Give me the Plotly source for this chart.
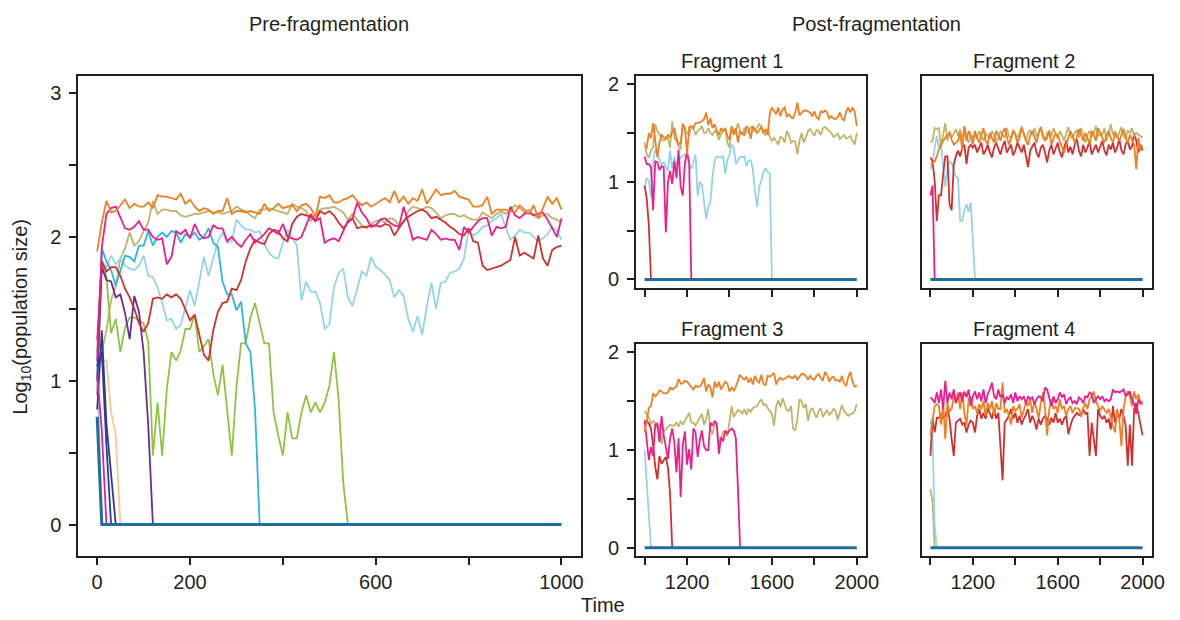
import plotly.graph_objects as go

# ---------------- data ----------------
T_PRE = list(range(0, 1001, 10))
T_POST = list(range(1000, 2001, 10))

# Pre-fragmentation (time 0..1000, step 10)
pre_orange = [1.90, 2.10, 2.25, 2.17, 2.18, 2.22, 2.26, 2.20, 2.23, 2.21,
              2.21, 2.24, 2.20, 2.29, 2.28, 2.28, 2.27, 2.26, 2.30, 2.23,
              2.26, 2.21, 2.18, 2.20, 2.19, 2.16, 2.18, 2.18, 2.27, 2.16,
              2.18, 2.18, 2.17, 2.18, 2.17, 2.16, 2.23, 2.18, 2.20, 2.23,
              2.20, 2.21, 2.22, 2.18, 2.22, 2.23, 2.20, 2.14, 2.28, 2.27,
              2.29, 2.24, 2.24, 2.26, 2.27, 2.29, 2.25, 2.22, 2.24, 2.21,
              2.23, 2.25, 2.27, 2.24, 2.32, 2.24, 2.28, 2.23, 2.27, 2.25,
              2.33, 2.23, 2.28, 2.33, 2.29, 2.30, 2.30, 2.32, 2.28, 2.27,
              2.26, 2.21, 2.21, 2.22, 2.28, 2.16, 2.19, 2.19, 2.19, 2.18,
              2.17, 2.22, 2.19, 2.16, 2.22, 2.13, 2.20, 2.28, 2.23, 2.27,
              2.19]
pre_olive = [1.15, 1.20, 1.35, 1.56, 1.66, 1.85, 1.92, 2.03, 1.94, 1.97,
             2.04, 2.10, 2.25, 2.16, 2.19, 2.19, 2.18, 2.18, 2.15, 2.14,
             2.15, 2.16, 2.16, 2.17, 2.18, 2.17, 2.17, 2.16, 2.17, 2.18,
             2.21, 2.19, 2.18, 2.15, 2.13, 2.19, 2.19, 2.20, 2.19, 2.18,
             2.17, 2.16, 2.23, 2.21, 2.20, 2.18, 2.11, 2.14, 2.19, 2.20,
             2.20, 2.21, 2.19, 2.17, 2.12, 2.16, 2.12, 2.08, 2.06, 2.09,
             2.11, 2.12, 2.10, 2.13, 2.12, 2.08, 2.10, 2.18, 2.21, 2.20,
             2.19, 2.21, 2.20, 2.17, 2.13, 2.15, 2.16, 2.16, 2.14, 2.15,
             2.13, 2.12, 2.12, 2.17, 2.15, 2.13, 2.16, 2.18, 2.16, 2.19,
             2.22, 2.20, 2.17, 2.19, 2.15, 2.13, 2.15, 2.16, 2.13, 2.12,
             2.10]
pre_red = [1.28, 1.83, 1.76, 1.79, 1.79, 1.73, 1.64, 1.58, 1.50, 1.40,
           1.34, 1.40, 1.57, 1.58, 1.57, 1.60, 1.58, 1.60, 1.57, 1.50,
           1.42, 1.46, 1.31, 1.18, 1.14, 1.35, 1.48, 1.54, 1.55, 1.64,
           1.63, 1.70, 1.83, 1.92, 1.98, 1.96, 1.95, 2.02, 2.05, 2.04,
           1.99, 1.97, 2.09, 2.14, 2.16, 2.15, 2.14, 2.11, 2.18, 2.16,
           2.18, 2.15, 2.10, 2.06, 2.10, 2.13, 2.06, 2.07, 2.07, 2.08,
           2.08, 2.07, 2.09, 2.08, 2.01, 2.06, 2.11, 2.14, 2.16, 2.18,
           2.19, 2.17, 2.13, 2.14, 2.12, 2.10, 2.07, 2.05, 2.02, 2.01,
           2.06, 1.97, 1.96, 1.80, 1.77, 1.78, 1.79, 1.80, 1.82, 1.84,
           2.00, 1.87, 1.89, 1.87, 1.85, 2.01, 1.85, 1.80, 1.91, 1.93,
           1.94]
pre_magenta = [1.14, 1.93, 2.16, 2.20, 2.21, 2.13, 2.06, 2.05, 2.07, 2.11,
               2.05, 2.05, 2.00, 1.98, 1.99, 1.81, 1.86, 2.04, 2.02, 2.05,
               1.99, 2.09, 2.02, 1.99, 2.00, 2.08, 2.06, 2.06, 1.97, 2.00,
               1.96, 1.93, 1.98, 2.02, 1.96, 1.99, 2.02, 2.06, 2.04, 2.02,
               2.09, 2.00, 1.99, 1.98, 2.00, 2.08, 2.16, 2.11, 2.13, 1.96,
               1.98, 1.99, 1.97, 2.04, 2.11, 2.13, 2.24, 2.17, 2.13, 2.07,
               2.08, 2.12, 2.13, 2.10, 2.08, 2.07, 2.21, 2.10, 1.98, 2.00,
               1.99, 1.98, 2.05, 2.02, 1.98, 1.99, 1.98, 1.98, 1.91, 2.07,
               2.03, 2.07, 2.11, 2.13, 2.13, 2.01, 2.07, 2.06, 2.07, 2.21,
               2.15, 2.13, 2.16, 2.17, 2.15, 2.16, 2.17, 2.12, 2.06, 2.00,
               2.13]
pre_lightblue = [1.10, 1.83, 1.79, 1.87, 1.81, 1.85, 1.80, 1.78, 1.77, 1.80,
                 1.87, 1.73, 1.72, 1.65, 1.54, 1.42, 1.43, 1.36, 1.39, 1.51,
                 1.63, 1.52, 1.70, 1.86, 1.73, 1.85, 1.97, 2.03, 1.96, 1.97,
                 2.12, 2.08, 2.05, 2.05, 2.03, 2.04, 1.95, 1.89, 1.86, 1.85,
                 1.96, 2.05, 2.00, 1.94, 1.56, 1.69, 1.62, 1.62, 1.54, 1.36,
                 1.39, 1.65, 1.75, 1.78, 1.58, 1.52, 1.64, 1.76, 1.73, 1.86,
                 1.79, 1.77, 1.74, 1.70, 1.58, 1.63, 1.59, 1.43, 1.34, 1.45,
                 1.32, 1.52, 1.68, 1.50, 1.68, 1.69, 1.75, 1.76, 1.78, 1.85,
                 2.05, 2.01, 2.03, 2.07, 2.08, 2.11, 2.13, 2.16, 2.06, 1.98,
                 2.01, 2.05, 2.03, 2.03, 2.00, 1.97, 1.99, 2.02, 2.07, 2.04,
                 1.98]
pre_skyblue = [0.90, 1.92, 1.83, 1.77, 1.66, 1.77, 1.87, 1.86, 1.83, 1.94,
               1.94, 2.04, 1.94, 2.00, 2.03, 2.00, 2.04, 2.03, 1.96, 2.02,
               2.00, 2.03, 1.98, 2.00, 2.06, 1.96, 1.93, 1.69, 1.60, 1.60,
               1.49, 1.55, 1.26, 1.20, 0.80, 0.00]
pre_green = [1.20, 1.83, 1.72, 1.33, 1.43, 1.20, 1.37, 1.44, 1.44, 1.42,
             1.40, 1.27, 0.48, 0.85, 0.48, 0.94, 1.20, 1.14, 1.21, 1.36,
             1.36, 1.46, 1.20, 1.24, 1.29, 1.05, 0.90, 1.11, 0.78, 0.48,
             0.96, 1.26, 1.26, 1.44, 1.54, 1.40, 1.26, 1.26, 0.78, 0.62,
             0.48, 0.78, 0.60, 0.60, 0.78, 0.90, 0.78, 0.85, 0.78, 0.85,
             0.96, 1.20, 0.87, 0.29, 0.00]
pre_purple = [1.00, 1.79, 1.70, 1.69, 1.58, 1.60, 1.47, 1.29, 1.59, 1.48,
              1.20, 0.69, 0.00]
pre_navy_a = [0.80, 1.35, 0.70, 0.35, 0.00]
pre_navy_b = [1.10, 1.20, 0.55, 0.00]
pre_magenta_b = [1.05, 0.65, 0.00]
pre_lightblue_b = [1.15, 0.00]
pre_peach = [1.10, 1.14, 1.14, 0.78, 0.62, 0.00]
pre_teal = [0.75, 0.00] + [0.00] * 99

# Fragment 1 (time 1000..2000, step 10)
f1_orange = [1.35, 1.35, 1.50, 1.45, 1.60, 1.45, 1.25, 1.40, 1.48, 1.46,
             1.44, 1.48, 1.46, 1.50, 1.55, 1.45, 1.38, 1.40, 1.59, 1.55,
             1.28, 1.56, 1.57, 1.55, 1.60, 1.60, 1.61, 1.62, 1.64, 1.71,
             1.58, 1.65, 1.55, 1.59, 1.52, 1.48, 1.55, 1.52, 1.54, 1.47,
             1.43, 1.57, 1.48, 1.55, 1.40, 1.52, 1.49, 1.48, 1.57, 1.54,
             1.44, 1.57, 1.53, 1.50, 1.53, 1.56, 1.50, 1.54, 1.48, 1.70,
             1.76, 1.73, 1.69, 1.76, 1.67, 1.74, 1.76, 1.67, 1.69, 1.66,
             1.65, 1.71, 1.81, 1.68, 1.70, 1.73, 1.73, 1.72, 1.71, 1.67,
             1.72, 1.66, 1.64, 1.72, 1.71, 1.73, 1.71, 1.65, 1.67, 1.65,
             1.64, 1.66, 1.71, 1.65, 1.63, 1.72, 1.76, 1.71, 1.76, 1.72,
             1.57]
f1_olive = [1.40, 1.28, 1.25, 1.32, 1.35, 1.59, 1.52, 1.48, 1.45, 1.42,
            1.44, 1.45, 1.35, 1.62, 1.45, 1.42, 1.36, 1.33, 1.60, 1.53,
            1.50, 1.48, 1.55, 1.55, 1.48, 1.52, 1.54, 1.57, 1.50, 1.50,
            1.55, 1.50, 1.48, 1.52, 1.50, 1.43, 1.49, 1.52, 1.55, 1.40,
            1.35, 1.55, 1.53, 1.52, 1.60, 1.52, 1.48, 1.55, 1.52, 1.50,
            1.56, 1.56, 1.52, 1.56, 1.59, 1.57, 1.50, 1.48, 1.54, 1.46,
            1.42, 1.45, 1.41, 1.38, 1.46, 1.45, 1.40, 1.52, 1.48, 1.40,
            1.42, 1.41, 1.28, 1.42, 1.50, 1.40, 1.45, 1.52, 1.54, 1.50,
            1.47, 1.53, 1.52, 1.48, 1.55, 1.56, 1.54, 1.51, 1.50, 1.46,
            1.47, 1.50, 1.44, 1.46, 1.48, 1.44, 1.46, 1.47, 1.42, 1.38,
            1.50]
f1_lightblue = [0.94, 1.04, 1.01, 0.84, 1.20, 1.33, 1.28, 1.22, 1.18, 1.20,
                1.15, 1.11, 1.32, 1.14, 1.26, 1.15, 1.20, 1.25, 1.26, 1.28,
                1.24, 1.18, 1.13, 1.20, 1.28, 0.85, 1.00, 0.97, 0.80, 0.62,
                0.74, 0.79, 1.05, 1.22, 1.26, 1.25, 1.25, 1.26, 1.08, 1.22,
                1.28, 1.38, 1.35, 1.18, 1.22, 1.26, 1.25, 1.26, 1.16, 1.22,
                1.22, 1.13, 0.90, 0.74, 0.95, 1.01, 1.10, 1.14, 1.10, 1.09,
                0.00]
f1_magenta = [1.26, 1.18, 1.18, 1.15, 0.71, 1.21, 1.20, 1.12, 1.16, 1.15,
              0.48, 1.00, 1.11, 0.98, 1.21, 1.04, 1.33, 0.95, 0.86, 1.20,
              1.30, 1.20, 0.00]
f1_red = [0.96, 0.83, 0.55, 0.00]
f1_teal = [0.00] * 101

# Fragment 2
f2_olive = [1.40, 1.42, 1.55, 1.54, 1.55, 1.36, 1.48, 1.60, 1.42, 1.52,
            1.45, 1.50, 1.54, 1.47, 1.54, 1.42, 1.57, 1.45, 1.40, 1.48,
            1.45, 1.50, 1.44, 1.52, 1.46, 1.42, 1.50, 1.47, 1.44, 1.52,
            1.48, 1.40, 1.46, 1.52, 1.48, 1.45, 1.55, 1.47, 1.44, 1.53,
            1.49, 1.45, 1.50, 1.57, 1.48, 1.42, 1.50, 1.53, 1.48, 1.55,
            1.46, 1.50, 1.56, 1.45, 1.42, 1.50, 1.52, 1.46, 1.55, 1.49,
            1.44, 1.52, 1.48, 1.42, 1.50, 1.56, 1.47, 1.44, 1.50, 1.53,
            1.45, 1.55, 1.49, 1.40, 1.48, 1.52, 1.46, 1.50, 1.57, 1.46,
            1.50, 1.48, 1.55, 1.42, 1.50, 1.59, 1.48, 1.52, 1.45, 1.50,
            1.56, 1.47, 1.44, 1.52, 1.50, 1.55, 1.46, 1.50, 1.48, 1.46,
            1.45]
f2_orange = [1.18, 1.18, 1.21, 1.26, 1.33, 1.38, 1.42, 1.45, 1.48, 1.50,
             1.43, 1.38, 1.40, 1.42, 1.50, 1.32, 1.57, 1.42, 1.52, 1.48,
             1.38, 1.52, 1.45, 1.40, 1.48, 1.55, 1.42, 1.38, 1.50, 1.45,
             1.40, 1.52, 1.48, 1.42, 1.50, 1.55, 1.45, 1.38, 1.44, 1.52,
             1.48, 1.40, 1.45, 1.55, 1.50, 1.42, 1.38, 1.47, 1.52, 1.45,
             1.40, 1.50, 1.56, 1.48, 1.42, 1.45, 1.52, 1.38, 1.44, 1.50,
             1.47, 1.41, 1.36, 1.30, 1.38, 1.45, 1.52, 1.47, 1.40, 1.46,
             1.54, 1.48, 1.42, 1.50, 1.45, 1.38, 1.52, 1.48, 1.42, 1.55,
             1.50, 1.44, 1.40, 1.48, 1.52, 1.45, 1.40, 1.50, 1.46, 1.42,
             1.48, 1.54, 1.45, 1.40, 1.48, 1.42, 1.38, 1.13, 1.45, 1.32,
             1.36]
f2_red = [1.25, 1.21, 1.01, 0.60, 0.86, 0.86, 1.08, 1.26, 1.26, 0.77,
          0.71, 1.18, 1.26, 1.32, 1.26, 1.35, 1.38, 1.18, 1.35, 1.38,
          1.35, 1.38, 1.30, 1.35, 1.40, 1.28, 1.32, 1.38, 1.30, 1.25,
          1.35, 1.40, 1.33, 1.28, 1.36, 1.42, 1.30, 1.34, 1.38, 1.27,
          1.32, 1.40, 1.35, 1.30, 1.38, 1.28, 1.15, 1.32, 1.36, 1.40,
          1.30, 1.25, 1.35, 1.38, 1.30, 1.20, 1.32, 1.38, 1.28, 1.34,
          1.40, 1.30, 1.25, 1.35, 1.42, 1.30, 1.36, 1.28, 1.38, 1.44,
          1.32, 1.26, 1.38, 1.30, 1.35, 1.42, 1.28, 1.33, 1.38, 1.30,
          1.36, 1.42, 1.32, 1.27, 1.38, 1.33, 1.40, 1.30, 1.35, 1.44,
          1.32, 1.28, 1.38, 1.42, 1.33, 1.36, 1.50, 1.42, 1.30, 1.38,
          1.32]
f2_magenta = [0.86, 0.96, 0.00]
f2_lightblue = [1.13, 1.18, 1.35, 1.47, 1.35, 1.40, 1.15, 0.95, 1.15, 1.21,
                1.19, 1.12, 1.05, 1.04, 0.60, 0.60, 0.71, 0.77, 0.69, 0.79,
                0.40, 0.00]
f2_teal = [0.00] * 101

# Fragment 3
f3_orange = [1.18, 1.32, 1.43, 1.45, 1.58, 1.55, 1.57, 1.61, 1.60, 1.58,
             1.58, 1.59, 1.64, 1.62, 1.64, 1.65, 1.73, 1.68, 1.68, 1.71,
             1.70, 1.67, 1.65, 1.62, 1.66, 1.65, 1.65, 1.68, 1.74, 1.60,
             1.67, 1.64, 1.54, 1.70, 1.64, 1.70, 1.62, 1.66, 1.70, 1.68,
             1.60, 1.64, 1.61, 1.65, 1.71, 1.77, 1.74, 1.72, 1.75, 1.69,
             1.74, 1.67, 1.76, 1.71, 1.69, 1.77, 1.68, 1.66, 1.76, 1.75,
             1.77, 1.79, 1.67, 1.72, 1.74, 1.72, 1.73, 1.75, 1.76, 1.74,
             1.74, 1.76, 1.72, 1.75, 1.78, 1.78, 1.76, 1.72, 1.76, 1.73,
             1.72, 1.76, 1.78, 1.74, 1.71, 1.80, 1.77, 1.70, 1.74, 1.75,
             1.71, 1.72, 1.70, 1.76, 1.68, 1.66, 1.75, 1.80, 1.70, 1.65,
             1.66]
f3_olive = [1.40, 1.36, 1.33, 1.26, 1.30, 1.28, 1.22, 1.26, 1.06, 1.19,
            1.21, 1.23, 1.26, 1.25, 1.25, 1.28, 1.24, 1.30, 1.26, 1.30,
            1.34, 1.38, 1.28, 1.28, 1.25, 1.29, 1.34, 1.37, 1.26, 1.32,
            1.42, 1.21, 1.16, 1.27, 1.24, 1.06, 1.12, 1.19, 1.18, 1.14,
            1.29, 1.45, 1.34, 1.37, 1.41, 1.40, 1.37, 1.42, 1.36, 1.42,
            1.39, 1.43, 1.44, 1.45, 1.49, 1.52, 1.46, 1.47, 1.43, 1.40,
            1.37, 1.25, 1.45, 1.51, 1.44, 1.53, 1.47, 1.41, 1.40, 1.45,
            1.22, 1.20, 1.32, 1.52, 1.50, 1.43, 1.47, 1.30, 1.40, 1.43,
            1.38, 1.33, 1.40, 1.43, 1.34, 1.37, 1.41, 1.36, 1.38, 1.42,
            1.40, 1.31, 1.40, 1.46, 1.40, 1.38, 1.35, 1.37, 1.37, 1.40,
            1.47]
f3_magenta = [1.30, 1.10, 0.90, 1.03, 0.94, 1.26, 1.27, 1.08, 1.35, 1.15,
              1.01, 0.91, 1.12, 1.22, 1.08, 0.77, 1.12, 0.52, 1.05, 1.19,
              0.85, 1.01, 0.80, 1.22, 1.18, 0.93, 1.10, 1.20, 1.04, 1.00,
              1.00, 1.28, 1.25, 1.30, 1.27, 0.96, 1.13, 1.09, 1.20, 1.17,
              1.20, 1.22, 1.20, 1.12, 0.60, 0.00]
f3_red = [1.30, 1.30, 1.27, 1.22, 1.05, 0.83, 0.70, 0.94, 0.86, 0.89,
          0.93, 0.82, 0.55, 0.00]
f3_lightblue = [1.00, 0.68, 0.35, 0.00]
f3_teal = [0.00] * 101

# Fragment 4
f4_magenta = [1.54, 1.52, 1.48, 1.59, 1.48, 1.62, 1.42, 1.71, 1.48, 1.59,
              1.52, 1.62, 1.48, 1.54, 1.59, 1.50, 1.60, 1.54, 1.62, 1.45,
              1.55, 1.60, 1.52, 1.59, 1.50, 1.62, 1.48, 1.57, 1.62, 1.69,
              1.55, 1.52, 1.62, 1.54, 1.57, 1.48, 1.54, 1.52, 1.57, 1.48,
              1.59, 1.50, 1.55, 1.52, 1.55, 1.47, 1.55, 1.52, 1.54, 1.47,
              1.52, 1.55, 1.54, 1.50, 1.64, 1.62, 1.52, 1.45, 1.55, 1.48,
              1.52, 1.59, 1.54, 1.57, 1.47, 1.52, 1.54, 1.48, 1.50, 1.47,
              1.54, 1.52, 1.48, 1.55, 1.54, 1.59, 1.57, 1.48, 1.52, 1.55,
              1.52, 1.55, 1.50, 1.52, 1.50, 1.52, 1.62, 1.59, 1.60, 1.59,
              1.60, 1.62, 1.55, 1.57, 1.60, 1.52, 1.47, 1.37, 1.52, 1.48,
              1.47]
f4_orange = [1.15, 1.28, 1.45, 1.47, 1.45, 1.26, 1.48, 1.11, 1.48, 1.40,
             1.42, 1.54, 1.50, 1.59, 1.42, 1.59, 1.38, 1.25, 1.52, 1.55,
             1.42, 1.45, 1.38, 1.47, 1.42, 1.50, 1.35, 1.48, 1.42, 1.50,
             1.35, 1.48, 1.42, 1.42, 1.69, 1.38, 1.42, 1.35, 1.26, 1.45,
             1.40, 1.42, 1.47, 1.33, 1.42, 1.48, 1.45, 1.52, 1.38, 1.50,
             1.42, 1.32, 1.48, 1.59, 1.42, 1.15, 1.42, 1.52, 1.42, 1.45,
             1.38, 1.52, 1.42, 1.45, 1.35, 1.42, 1.45, 1.38, 1.43, 1.43,
             1.42, 1.35, 1.43, 1.48, 1.42, 1.52, 1.55, 1.60, 1.50, 1.45,
             1.40, 1.45, 1.42, 1.38, 1.42, 1.32, 1.25, 1.18, 1.42, 1.32,
             1.04, 1.42, 1.55, 1.60, 1.55, 1.45, 1.60, 1.52, 1.57, 1.48,
             1.50]
f4_red = [0.94, 1.32, 1.18, 1.33, 1.33, 1.37, 1.32, 1.35, 1.42, 1.32,
          1.11, 0.94, 1.28, 1.30, 1.32, 1.26, 1.28, 1.18, 1.26, 1.30,
          1.28, 1.18, 1.35, 1.42, 1.32, 1.38, 1.32, 1.43, 1.38, 1.32,
          1.42, 1.32, 1.38, 1.01, 0.69, 1.28, 1.32, 1.35, 1.42, 1.32,
          1.38, 1.28, 1.35, 1.26, 1.32, 1.36, 1.42, 1.28, 1.35, 1.30,
          1.21, 1.32, 1.26, 1.32, 1.35, 1.32, 1.26, 1.33, 1.28, 1.38,
          1.28, 1.32, 1.26, 1.32, 1.35, 1.16, 1.25, 1.32, 1.35, 1.38,
          1.36, 1.35, 1.42, 1.37, 1.38, 0.94, 1.28, 1.10, 0.94, 1.42,
          1.35, 1.32, 1.35, 1.28, 1.32, 1.21, 1.45, 1.28, 1.38, 1.32,
          1.42, 1.35, 1.25, 0.84, 1.26, 0.84, 1.42, 1.48, 1.35, 1.26,
          1.15]
f4_lightblue = [1.30, 1.15, 0.23, 0.00]
f4_olive = [0.60, 0.47, 0.00]
f4_teal = [0.00] * 101

# tick labels (major = labelled, minor = unlabelled tick marks)
PRE_XTICKS = [0, 200, 600, 1000]
PRE_XLABELS = ["0", "200", "600", "1000"]
PRE_XMINOR = [400, 800]
PRE_YTICKS = [0, 1, 2, 3]
PRE_YLABELS = ["0", "1", "2", "3"]
PRE_YMINOR = [0.5, 1.5, 2.5]
POST_XTICKS = [1200, 1600, 2000]
POST_XLABELS = ["1200", "1600", "2000"]
POST_XMINOR = [1000, 1400, 1800]
POST_YTICKS = [0, 1, 2]
POST_YLABELS = ["0", "1", "2"]
POST_YMINOR = [0.5, 1.5]

# ---------------- style ----------------
C = {
    "teal": "#1f6e9e", "orange": "#f07f22", "olive": "#bfb469", "red": "#d1302f",
    "magenta": "#ec1e8c", "lightblue": "#93d5e6", "skyblue": "#2db4e8",
    "green": "#8dc540", "purple": "#6b2d90", "navy": "#2e3a8f", "peach": "#fbc98e",
}
FONT = "Liberation Sans, Arial, Helvetica, sans-serif"
INK = "#231f20"
W, H = 1180, 620
LW = 1.8

fig = go.Figure()


def add(vals, times, color, ax, width=LW):
    fig.add_trace(go.Scatter(
        x=times[:len(vals)], y=vals, mode="lines",
        line=dict(color=color, width=width),
        xaxis="x" + ("" if ax == 1 else str(ax)),
        yaxis="y" + ("" if ax == 1 else str(ax)),
        hoverinfo="skip", showlegend=False))


# left panel
add(pre_peach, T_PRE, C["peach"], 1)
add(pre_lightblue_b, T_PRE, C["lightblue"], 1)
add(pre_olive, T_PRE, C["olive"], 1)
add(pre_lightblue, T_PRE, C["lightblue"], 1)
add(pre_green, T_PRE, C["green"], 1)
add(pre_skyblue, T_PRE, C["skyblue"], 1)
add(pre_purple, T_PRE, C["purple"], 1)
add(pre_navy_a, T_PRE, C["navy"], 1)
add(pre_navy_b, T_PRE, C["navy"], 1)
add(pre_red, T_PRE, C["red"], 1)
add(pre_magenta_b, T_PRE, C["magenta"], 1)
add(pre_magenta, T_PRE, C["magenta"], 1)
add(pre_orange, T_PRE, C["orange"], 1)
add(pre_teal, T_PRE, C["teal"], 1, width=3)

# fragment 1
add(f1_olive, T_POST, C["olive"], 2)
add(f1_lightblue, T_POST, C["lightblue"], 2)
add(f1_red, T_POST, C["red"], 2)
add(f1_magenta, T_POST, C["magenta"], 2)
add(f1_orange, T_POST, C["orange"], 2)
add(f1_teal, T_POST, C["teal"], 2, width=3)

# fragment 2
add(f2_lightblue, T_POST, C["lightblue"], 3)
add(f2_magenta, T_POST, C["magenta"], 3)
add(f2_red, T_POST, C["red"], 3)
add(f2_olive, T_POST, C["olive"], 3)
add(f2_orange, T_POST, C["orange"], 3)
add(f2_teal, T_POST, C["teal"], 3, width=3)

# fragment 3
add(f3_lightblue, T_POST, C["lightblue"], 4)
add(f3_olive, T_POST, C["olive"], 4)
add(f3_red, T_POST, C["red"], 4)
add(f3_magenta, T_POST, C["magenta"], 4)
add(f3_orange, T_POST, C["orange"], 4)
add(f3_teal, T_POST, C["teal"], 4, width=3)

# fragment 4
add(f4_olive, T_POST, C["olive"], 5)
add(f4_lightblue, T_POST, C["lightblue"], 5)
add(f4_red, T_POST, C["red"], 5)
add(f4_orange, T_POST, C["orange"], 5)
add(f4_magenta, T_POST, C["magenta"], 5)
add(f4_teal, T_POST, C["teal"], 5, width=3)


def px_x(a, b):
    return [a / W, b / W]


def px_y(top, bottom):
    return [1 - bottom / H, 1 - top / H]


TICK = dict(ticks="outside", ticklen=7, tickwidth=1.5, tickcolor=INK)
base = dict(showline=True, linecolor=INK, linewidth=1.6, mirror=True,
            showgrid=False, zeroline=False,
            tickfont=dict(family=FONT, size=20, color=INK), **TICK)


def xax(dom, rng, vals, labels, minor, anchor, show):
    return dict(base, domain=dom, range=rng, tickmode="array", tickvals=vals,
                ticktext=labels, anchor=anchor, showticklabels=show,
                minor=dict(tickmode="array", tickvals=minor, **TICK))


def yax(dom, rng, vals, labels, minor, anchor, show):
    d = dict(base, domain=dom, range=rng, anchor=anchor)
    if show:
        d.update(tickmode="array", tickvals=vals, ticktext=labels,
                 ticklabelstandoff=4,
                 minor=dict(tickmode="array", tickvals=minor, **TICK))
    else:
        d.update(ticks="", showticklabels=False)
    return d


L_X, L_Y = px_x(79, 587), px_y(74, 558)
C1_X, C2_X = px_x(643, 876), px_x(932, 1165)
R1_Y, R2_Y = px_y(74, 288), px_y(344, 558)
PRE_XR, PRE_YR = [-41, 1041], [-0.221, 3.122]
POST_XR, POST_YR = [959, 2045], [-0.089, 2.088]

fig.update_layout(
    width=W, height=H, margin=dict(l=0, r=0, t=0, b=0),
    paper_bgcolor="white", plot_bgcolor="white", showlegend=False,
    font=dict(family=FONT, size=20, color=INK),
    xaxis=xax(L_X, PRE_XR, PRE_XTICKS, PRE_XLABELS, PRE_XMINOR, "y", True),
    yaxis=yax(L_Y, PRE_YR, PRE_YTICKS, PRE_YLABELS, PRE_YMINOR, "x", True),
    xaxis2=xax(C1_X, POST_XR, POST_XTICKS, POST_XLABELS, POST_XMINOR, "y2", False),
    yaxis2=yax(R1_Y, POST_YR, POST_YTICKS, POST_YLABELS, POST_YMINOR, "x2", True),
    xaxis3=xax(C2_X, POST_XR, POST_XTICKS, POST_XLABELS, POST_XMINOR, "y3", False),
    yaxis3=yax(R1_Y, POST_YR, POST_YTICKS, POST_YLABELS, POST_YMINOR, "x3", False),
    xaxis4=xax(C1_X, POST_XR, POST_XTICKS, POST_XLABELS, POST_XMINOR, "y4", True),
    yaxis4=yax(R2_Y, POST_YR, POST_YTICKS, POST_YLABELS, POST_YMINOR, "x4", True),
    xaxis5=xax(C2_X, POST_XR, POST_XTICKS, POST_XLABELS, POST_XMINOR, "y5", True),
    yaxis5=yax(R2_Y, POST_YR, POST_YTICKS, POST_YLABELS, POST_YMINOR, "x5", False),
)


def note(text, x, y, angle=0, size=20):
    fig.add_annotation(text=text, x=x / W, y=1 - y / H, xref="paper",
                       yref="paper", showarrow=False, textangle=angle,
                       font=dict(family=FONT, size=size, color=INK),
                       xanchor="center", yanchor="middle")


note("Pre-fragmentation", 333, 22)
note("Post-fragmentation", 886, 22)
note("Fragment 1", 740, 59)
note("Fragment 2", 1035, 59)
note("Fragment 3", 740, 329)
note("Fragment 4", 1035, 329)
note("Time", 610, 607)
note("Log<sub>10</sub>(population size)", 22, 317, angle=-90)

fig.write_html("out.html")
